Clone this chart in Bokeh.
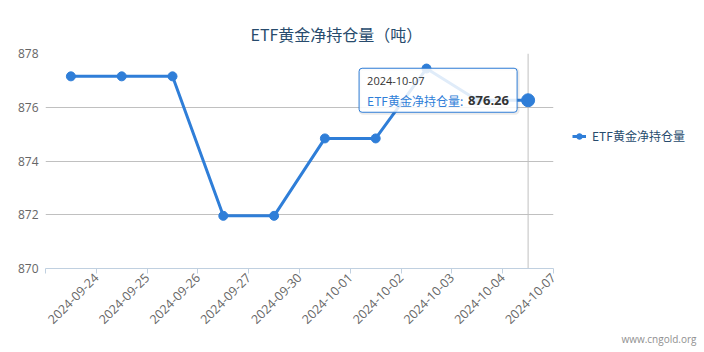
import math
from bokeh.plotting import figure
from bokeh.models import (Range1d, FixedTicker, Span, BoxAnnotation, Label,
                          Legend, LegendItem, ColumnDataSource, Title)
from bokeh.embed import file_html
from bokeh.resources import INLINE

# ---- data ----
title_text = "ETF黄金净持仓量（吨）"
series_name = "ETF黄金净持仓量"
dates = ["2024-09-24", "2024-09-25", "2024-09-26", "2024-09-27", "2024-09-30",
         "2024-10-01", "2024-10-02", "2024-10-03", "2024-10-04", "2024-10-07"]
holdings = [877.15, 877.15, 877.15, 871.96, 871.96,
            874.84, 874.84, 877.44, 876.26, 876.26]
y_ticks = [870, 872, 874, 876, 878]
credit_text = "www.cngold.org"

# ---- style ----
SERIES = "#2f7ed8"
W, H = 704, 352
ML, MR, MT, MB = 45, 151, 53, 84
FW, FH = W - ML - MR, H - MT - MB
LATIN = "Open Sans"
CJK = "Noto Sans CJK SC"

n = len(dates)
xs = [i + 0.5 for i in range(n)]
src = ColumnDataSource(dict(x=xs, y=holdings, d=dates))

p = figure(frame_width=FW, frame_height=FH, output_backend="svg",
           toolbar_location=None,
           x_range=Range1d(0, n), y_range=Range1d(y_ticks[0], y_ticks[-1]),
           min_border_left=ML, min_border_right=MR, min_border_top=MT,
           min_border_bottom=MB - 5)
p.outline_line_color = None
p.background_fill_color = "white"
p.border_fill_color = "white"

# title
p.title.text = title_text
p.title.align = "left"
p.title.offset = 250 - ML
p.title.text_font = CJK
p.title.text_font_size = "16px"
p.title.text_font_style = "normal"
p.title.text_color = "#274b6d"
p.title.standoff = 16

# x axis: ticks on category boundaries, label at the right boundary
p.xaxis.ticker = FixedTicker(ticks=list(range(0, n + 1)))
overrides = {0: ""}
for i, d in enumerate(dates):
    overrides[i + 1] = d
p.xaxis.major_label_overrides = overrides
p.xaxis.major_label_orientation = math.pi / 4
p.xaxis.axis_line_color = "#C0D0E0"
p.xaxis.major_tick_line_color = "#C0D0E0"
p.xaxis.major_tick_in = 0
p.xaxis.major_tick_out = 5
p.xaxis.minor_tick_line_color = None
p.xaxis.major_label_text_font = LATIN
p.xaxis.major_label_text_font_size = "12.5px"
p.xaxis.major_label_text_color = "#666666"
p.xaxis.major_label_standoff = 2
p.xgrid.visible = False

p.yaxis.ticker = FixedTicker(ticks=y_ticks)
p.yaxis.axis_line_color = None
p.yaxis.major_tick_line_color = None
p.yaxis.major_tick_in = 0
p.yaxis.major_tick_out = 0
p.yaxis.minor_tick_line_color = None
p.yaxis.major_label_text_font = LATIN
p.yaxis.major_label_text_font_size = "12px"
p.yaxis.major_label_text_color = "#666666"
p.yaxis.major_label_standoff = 7
p.ygrid.ticker = FixedTicker(ticks=y_ticks)
p.ygrid.grid_line_color = "#C0C0C0"

# crosshair at hovered (last) point
p.add_layout(Span(location=xs[-1], dimension="height", line_color="#C0C0C0",
                  line_width=1, level="underlay"))

line_r = p.line("x", "y", source=src, line_color=SERIES, line_width=3)
pts_r = p.scatter("x", "y", source=src, size=9, fill_color=SERIES,
                  line_color=SERIES)
p.scatter([xs[-1]], [holdings[-1]], size=13, fill_color=SERIES,
          line_color=SERIES)

legend = Legend(items=[LegendItem(label=series_name, renderers=[line_r, pts_r])],
                location=(19, FH - (137 - MT) - 7),
                padding=0, margin=0, spacing=0, glyph_width=14, glyph_height=14,
                label_standoff=6, label_text_font=CJK,
                label_text_font_size="12px", label_text_color="#274b6d",
                label_text_baseline="middle",
                border_line_alpha=0, background_fill_alpha=0)
p.add_layout(legend, "right")

# tooltip (pixel offsets converted to data units)
px_x = FW / n
px_y = FH / (y_ticks[-1] - y_ticks[0])
tx, ty = xs[-1], holdings[-1]
box_kw = dict(left=tx - 169 / px_x, right=tx - 11 / px_x,
              top=ty + 32 / px_y, bottom=ty - 12 / px_y)
shadow = BoxAnnotation(left=box_kw["left"] + 1 / px_x, right=box_kw["right"] + 1 / px_x,
                       top=box_kw["top"] - 1 / px_y, bottom=box_kw["bottom"] - 1 / px_y,
                       fill_alpha=0, line_color="black", line_alpha=0.08,
                       line_width=3, border_radius=3)
p.add_layout(shadow)
p.add_layout(BoxAnnotation(**box_kw, fill_color="white", fill_alpha=0.85,
                           line_color=SERIES, line_width=1, line_alpha=1,
                           border_radius=3))
p.add_layout(Label(x=tx, y=ty, x_offset=-161, y_offset=19, text=dates[-1],
                   text_font=LATIN, text_font_size="11px", text_color="#333333",
                   text_baseline="middle"))
p.add_layout(Label(x=tx, y=ty, x_offset=-161, y_offset=0, text=series_name + ":",
                   text_font=CJK, text_font_size="12px", text_color=SERIES,
                   text_baseline="middle"))
p.add_layout(Label(x=tx, y=ty, x_offset=-60, y_offset=0, text=f"{holdings[-1]:.2f}",
                   text_font=LATIN, text_font_size="13px", text_color="#333333",
                   text_font_style="bold", text_baseline="middle"))

# credits
p.add_layout(Title(text=credit_text, align="right", offset=-(W - 8 - ML - FW),
                   vertical_align="middle",
                   text_font=LATIN, text_font_size="10px", text_color="#909090",
                   text_font_style="normal", standoff=0), "below")

open("out.html", "w").write(file_html(p, INLINE))
